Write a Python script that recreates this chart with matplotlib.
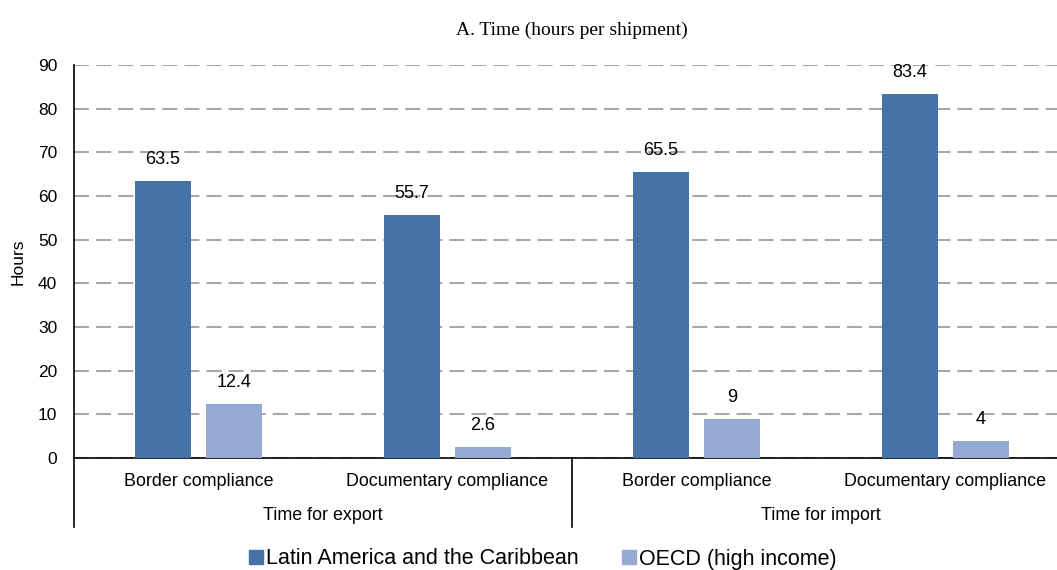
import matplotlib
matplotlib.use('Agg')
import matplotlib.pyplot as plt
import numpy as np

plt.rcParams['font.family'] = ['Liberation Sans', 'DejaVu Sans']

categories = ['Border compliance', 'Documentary compliance',
              'Border compliance', 'Documentary compliance']
groups = ['Time for export', 'Time for import']
lac = [63.5, 55.7, 65.5, 83.4]
oecd = [12.4, 2.6, 9, 4]
series_names = ['Latin America and the Caribbean', 'OECD (high income)']
yticks = [0, 10, 20, 30, 40, 50, 60, 70, 80, 90]

c_dark = '#4673a7'
c_light = '#95aad2'

W, H = 1057, 570
fig = plt.figure(figsize=(W / 100, H / 100), dpi=100)
# axis runs from x=74 to x=1070 px (slightly past the right edge)
ax = fig.add_axes([74 / W, 1 - 458 / H, (1070 - 74) / W, (458 - 65) / H])

x = np.arange(len(categories))
bw = 0.225
off = 0.1425
b1 = ax.bar(x - off, lac, bw, color=c_dark, zorder=3)
b2 = ax.bar(x + off, oecd, bw, color=c_light, zorder=3)

for bars, vals in ((b1, lac), (b2, oecd)):
    for r, v in zip(bars, vals):
        ax.annotate(f'{v:g}', (r.get_x() + r.get_width() / 2, v),
                    xytext=(0, 9), textcoords='offset points',
                    ha='center', va='bottom', fontsize=13, zorder=4)

ax.set_xlim(-0.5, 3.5)
ax.set_ylim(0, 90)
ax.set_yticks(yticks)
ax.yaxis.grid(True, color='#a8a8a8', linestyle=(0, (7.2, 3.4)), linewidth=1.5, zorder=0)
ax.set_axisbelow(True)
ax.tick_params(axis='y', length=0, labelsize=12.5, pad=12)
ax.set_xticks([])
for s in ('top', 'right'):
    ax.spines[s].set_visible(False)
ax.spines['left'].set_linewidth(1.2)
ax.spines['bottom'].set_linewidth(1.2)
ax.set_ylabel('Hours', fontsize=12.5, labelpad=9)

# two-level category axis drawn below the plot
trans = ax.get_xaxis_transform()
for xi, lab in zip(x, categories):
    ax.text(xi, -23 / 393, lab, transform=trans, ha='center', va='center', fontsize=12.9)
for gi, g in enumerate(groups):
    ax.text(gi * 2 + 0.5, -57 / 393, g, transform=trans, ha='center', va='center', fontsize=12.9)
for xs in (-0.5, 1.5, 3.5):
    ax.plot([xs, xs], [0, -69 / 393], transform=trans, color='black',
            linewidth=1.2, clip_on=False)

fig.text(572 / W, 1 - 30 / H, 'A. Time (hours per shipment)', ha='center', va='center',
         fontsize=14, family=['Liberation Serif', 'DejaVu Serif'])

handles = [plt.Rectangle((0, 0), 1, 1, color=c_dark), plt.Rectangle((0, 0), 1, 1, color=c_light)]
fig.legend(handles, series_names, loc='center', bbox_to_anchor=(543 / W, 1 - 559 / H),
           ncol=2, frameon=False, fontsize=15.5, handlelength=0.65, handleheight=0.65,
           handletextpad=0.15, columnspacing=2.0, borderpad=0, borderaxespad=0)

fig.savefig('out.png', dpi=100)
